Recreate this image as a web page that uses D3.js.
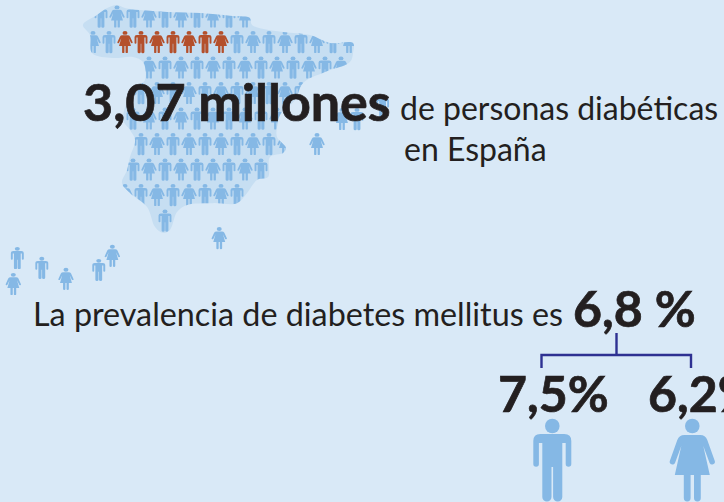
<!DOCTYPE html>
<html>
<head>
<meta charset="utf-8">
<script src="https://cdn.jsdelivr.net/npm/d3@7"></script>
<style>
    html, body { margin: 0; padding: 0; background: #d9e9f7; overflow: hidden; }
    text { font-family: Lato, "Open Sans", sans-serif; fill: #231f20; }
    .heavy { font-weight: 700; stroke: #231f20; stroke-width: 0.7px; }
</style>
</head>
<body>
<svg id="chart" width="724" height="502"></svg>
<script>
// rows of the pictogram: first column, how many figures, and who comes first
const rowNames = [1, 2, 3, 4, 5, 6, 7, 8, 9]
const rowStart = [0.5, 0, 3.5, 3, 2.5, 3, 2.5, 2, 4.5]
const rowCount = [10, 17, 13, 11, 10, 10, 9, 8, 1]
const rowFirst = ['m', 'w', 'w', 'm', 'm', 'm', 'm', 'w', 'm']
const highlightRow = 2
const highlightFigures = [2, 3, 4, 5, 6, 7, 8]

// islands and other loose figures, in grid units
const looseCol = [-4.73, -3.2, -1.69, 0.36, 1.21, -4.98, 7.89, 14, 15.56, 16.5, 18.1]
const looseRow = [10.47, 10.86, 11.29, 10.94, 10.39, 11.49, 9.69, 6, 5.02, 5.02, 4.5]
const looseKind = ['m', 'm', 'w', 'm', 'w', 'w', 'w', 'w', 'w', 'm', 'm']

// map outline, in grid units (column, row)
const mapOutline = [
    [-0.63, 1.76], [0.25, 1.37], [0.88, 1.1], [1.5, 0.98], [2, 1.1], [2.94, 1.18], [4.63, 1.25], [6.69, 1.29],
    [8.75, 1.41], [9.81, 1.49], [9.94, 1.76], [11.88, 2.04], [13.56, 2.16], [14.81, 2.47], [16.25, 2.47], [16.25, 2.86],
    [16.06, 3.22], [14.5, 3.61], [13.13, 4.04], [12.63, 4.71], [11.69, 5.29], [11.5, 5.76], [11.5, 6.16], [12.06, 6.59],
    [11.88, 6.78], [11.06, 6.94], [10.94, 7.73], [10.25, 7.84], [9.63, 8.35], [9, 8.75], [7.5, 8.75], [5.88, 8.82],
    [5.25, 9.1], [4.81, 9.8], [4.38, 9.92], [3.88, 9.69], [3.38, 8.9], [2.31, 8.35], [1.81, 7.96], [2.13, 7.45],
    [2.31, 6.94], [2.63, 6.27], [2.31, 5.88], [1.88, 5.49], [2.19, 4.71], [2.75, 4.2], [3.25, 3.92], [3.13, 3.22],
    [2.5, 3.02], [1.25, 3.06], [-0.06, 2.86], [-0.19, 2.16]
]

const bigNumber = '3,07 millones'
const subtitle = ['de personas diabéticas', 'en España']
const prevalenceLabel = 'La prevalencia de diabetes mellitus es'
const prevalenceValue = '6,8 %'
const sexValues = ['7,5%', '6,2%']
const sexKinds = ['m', 'w']

// one grid column is 16px, one row 25.5px
const xScale = d3.scaleLinear().domain([0, 1]).range([93, 109])
const yScale = d3.scaleLinear().domain([1, 2]).range([5.5, 31])

const svg = d3.select('#chart')

// draws a person, the big figure is drawn at scale 1
function person(g, kind, color) {
    g.append('circle').attr('cx', 0).attr('cy', 7).attr('r', 7.3).attr('fill', color)
    if (kind == 'm') {
        g.append('path').attr('fill', color)
            .attr('d', 'M-12,15 H12 Q19,15 19,22 V45 a2.8,2.8 0 0 1 -5.6,0 V24 H10 V78 a4.6,4.6 0 0 1 -9.2,0 V48 H-0.8 V78 a4.6,4.6 0 0 1 -9.2,0 V24 H-13.4 V45 a2.8,2.8 0 0 1 -5.6,0 V22 Q-19,15 -12,15 Z')
    } else {
        g.append('path').attr('fill', color)
            .attr('d', 'M-8,16 H8 Q13,16 15,21 L22.5,42 a2.8,2.8 0 0 1 -5.2,2 L11,27 L17.5,56 H8.5 V79 a3.4,3.4 0 0 1 -6.8,0 V56 H-1.7 V79 a3.4,3.4 0 0 1 -6.8,0 V56 H-17.5 L-11,27 L-17.3,44 a2.8,2.8 0 0 1 -5.2,-2 L-15,21 Q-13,16 -8,16 Z')
    }
}

const lineGen = d3.line()
    .x(d => xScale(d[0]))
    .y(d => yScale(d[1]))
    .curve(d3.curveCatmullRomClosed)

svg.append('defs').append('clipPath').attr('id', 'mapClip')
    .append('path').attr('d', lineGen(mapOutline))

svg.append('path')
    .attr('d', lineGen(mapOutline))
    .attr('fill', '#c6def2')

const iconColor = '#85b8e5'
const redColor = '#b4502c'
const smallX = 0.34
const smallY = 0.268

function smallTransform(col, row) {
    return 'translate(' + xScale(col) + ',' + yScale(row) + ') scale(' + smallX + ',' + smallY + ')'
}

const mapG = svg.append('g').attr('clip-path', 'url(#mapClip)')

rowNames.forEach((row, i) => {
    const other = rowFirst[i] == 'm' ? 'w' : 'm'
    d3.range(rowCount[i]).forEach(k => {
        const kind = k % 2 == 0 ? rowFirst[i] : other
        const isRed = row == highlightRow && highlightFigures.includes(k)
        const g = mapG.append('g').attr('transform', smallTransform(rowStart[i] + k, row))
        person(g, kind, isRed ? redColor : iconColor)
    })
})

// loose figures are not clipped by the map
looseCol.forEach((c, i) => {
    const g = svg.append('g').attr('transform', smallTransform(c, looseRow[i]))
    person(g, looseKind[i], iconColor)
})

// texts
svg.append('text').attr('class', 'heavy').attr('x', 83).attr('y', 121)
    .style('font-size', '52px')
    .text(bigNumber)

svg.selectAll('.sub')
    .data(subtitle)
    .enter()
    .append('text')
    .attr('class', 'sub')
    .attr('x', (d, i) => i == 0 ? 400 : 404)
    .attr('y', (d, i) => i == 0 ? 120 : 161)
    .style('font-size', '32px')
    .text(d => d)

svg.append('text').attr('x', 33).attr('y', 326)
    .style('font-size', '32.3px')
    .text(prevalenceLabel)

svg.append('text').attr('class', 'heavy').attr('x', 573).attr('y', 327)
    .style('font-size', '50px')
    .text(prevalenceValue)

// bracket
const sexScale = d3.scalePoint().domain(sexKinds).range([541.5, 691])
const mid = 616.5
svg.append('path')
    .attr('d', 'M' + sexScale('m') + ',368 V355 H' + sexScale('w') + ' V368 M' + mid + ',355 V333')
    .attr('fill', 'none')
    .attr('stroke', '#2e3192')
    .attr('stroke-width', 2.4)

svg.selectAll('.sex')
    .data(sexValues)
    .enter()
    .append('text')
    .attr('class', 'sex heavy')
    .attr('x', (d, i) => i == 0 ? 498 : 648)
    .attr('y', 412)
    .style('font-size', '50px')
    .text(d => d)

sexKinds.forEach(k => {
    const g = svg.append('g')
        .attr('transform', 'translate(' + (k == 'm' ? 552.3 : 692.3) + ',419)')
    person(g, k, iconColor)
})
</script>
</body>
</html>
